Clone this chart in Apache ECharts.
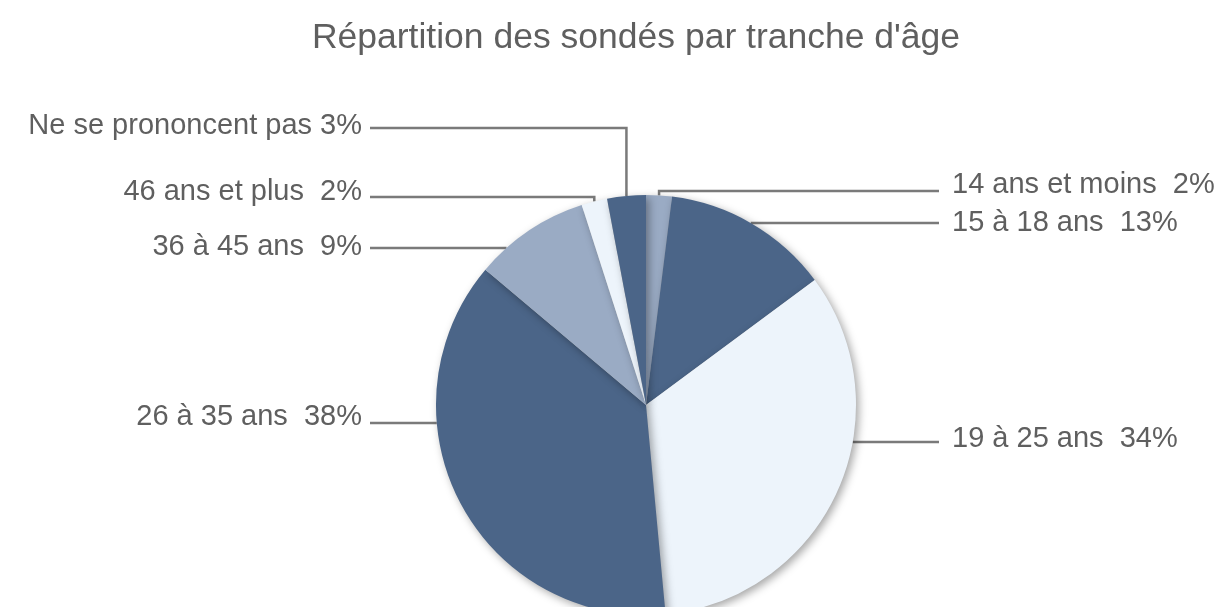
<!DOCTYPE html>
<html>
<head>
<meta charset="utf-8">
<script src="https://cdn.jsdelivr.net/npm/echarts@6/dist/echarts.min.js"></script>
<style>
  html, body { margin: 0; padding: 0; background: #fff; }
  #chart { width: 1227px; height: 607px; }
</style>
</head>
<body>
<div id="chart"></div>
<script>
const ageGroups = [
  "14 ans et moins",
  "15 à 18 ans",
  "19 à 25 ans",
  "26 à 35 ans",
  "36 à 45 ans",
  "46 ans et plus",
  "Ne se prononcent pas"
];
const shares = [2, 13, 34, 38, 9, 2, 3];

const DARK = "#4b6588";
const MID = "#9aabc4";
const LIGHT = "#edf4fb";
const sliceColors = [MID, DARK, LIGHT, DARK, MID, LIGHT, DARK];

// label placement (pixels), one row per slice
const labelTextY = [185, 223, 439, 417, 247, 192, 126];
const labelLineY = [191, 223, 442, 423, 248, 197, 128];
const CX = 646, CY = 405, R = 210;
const RIGHT_TEXT_X = 952, LEFT_TEXT_X = 362;

const total = shares.reduce((a, b) => a + b, 0);
const midAngles = [];
let acc = 0;
shares.forEach(v => {
  midAngles.push(((acc + v / 2) / total) * Math.PI * 2);
  acc += v;
});

function leaderPoints(i) {
  const y = labelLineY[i];
  const mx = CX + R * Math.sin(midAngles[i]);
  const my = CY - R * Math.cos(midAngles[i]);
  const right = mx >= CX;
  const endX = right ? RIGHT_TEXT_X - 13 : LEFT_TEXT_X + 8;
  const dy = y - CY;
  if (Math.abs(dy) < R - 10) {
    const ex = CX + (right ? 1 : -1) * Math.sqrt(R * R - dy * dy);
    return [[ex, y], [ex, y], [endX, y]];
  }
  return [[mx, my], [mx, y], [endX, y]];
}

const chart = echarts.init(document.getElementById("chart"));

chart.setOption({
  backgroundColor: "#fff",
  animation: false,
  title: {
    text: "Répartition des sondés par tranche d'âge",
    left: 631,
    textAlign: "center",
    top: 15,
    textStyle: {
      fontFamily: "Liberation Sans, Arial, sans-serif",
      fontSize: 35.5,
      fontWeight: "normal",
      color: "#5f5f5f"
    }
  },
  series: [
    {
      type: "pie",
      center: [CX, CY],
      radius: R,
      startAngle: 90,
      clockwise: true,
      data: ageGroups.map((name, i) => ({
        name,
        value: shares[i],
        itemStyle: { color: sliceColors[i] }
      })),
      itemStyle: {
        borderWidth: 0,
        shadowBlur: 8,
        shadowOffsetX: 3,
        shadowOffsetY: 3,
        shadowColor: "rgba(0,0,0,0.35)"
      },
      label: {
        show: true,
        position: "outside",
        fontFamily: "Liberation Sans, Arial, sans-serif",
        fontSize: 29,
        color: "#5f5f5f",
        formatter: p => p.name + (p.dataIndex === 6 ? " " : "  ") + p.value + "%"
      },
      labelLine: {
        show: true,
        lineStyle: { color: "#7a7a7a", width: 2.5 }
      },
      labelLayout: params => {
        const i = params.dataIndex;
        const pts = leaderPoints(i);
        const right = pts[2][0] > CX;
        return {
          x: right ? RIGHT_TEXT_X : LEFT_TEXT_X,
          y: labelTextY[i],
          align: right ? "left" : "right",
          verticalAlign: "middle",
          labelLinePoints: pts
        };
      },
      emphasis: { disabled: true }
    }
  ]
});

window.addEventListener("resize", () => chart.resize());
</script>
</body>
</html>
